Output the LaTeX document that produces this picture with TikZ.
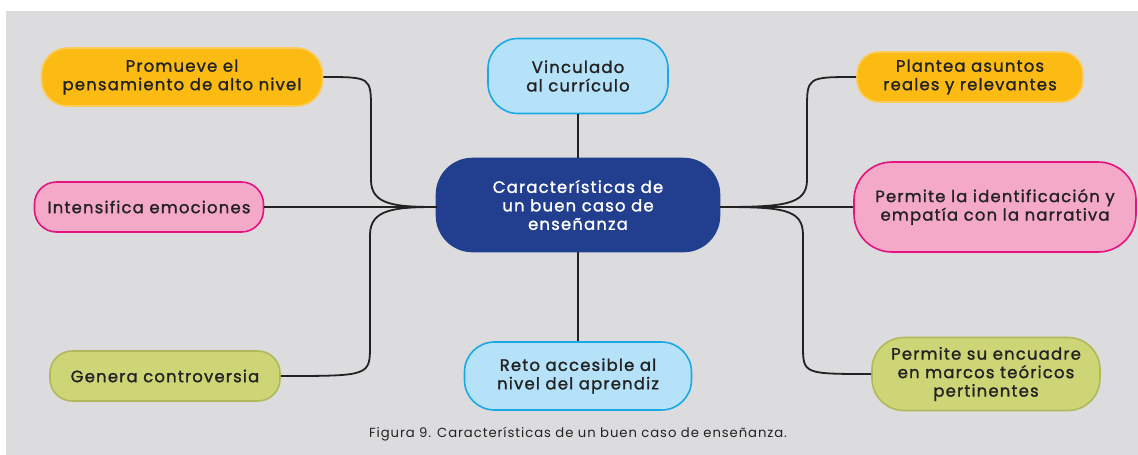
\documentclass[tikz,border=0pt]{standalone}
\usepackage{fontspec}
\setmainfont{Poppins}[LetterSpace=7]
\newfontfamily\boxfont{Poppins}[LetterSpace=7,FakeBold=1.3]
\definecolor{bggray}{HTML}{DCDCDE}
\definecolor{orfill}{HTML}{FCBB13}
\definecolor{ordraw}{HTML}{FDCB5A}
\definecolor{pkfill}{HTML}{F5A9C8}
\definecolor{pkdraw}{HTML}{E5127F}
\definecolor{grfill}{HTML}{CDD577}
\definecolor{grdraw}{HTML}{B1B95A}
\definecolor{blfill}{HTML}{B5E2F8}
\definecolor{bldraw}{HTML}{19A9E5}
\definecolor{dkblue}{HTML}{223E8E}
\definecolor{txt}{HTML}{222222}
\tikzset{
  box/.style={rectangle, align=center, line width=1.6pt, text=txt,
    font=\boxfont\fontsize{16.5}{18.5}\selectfont, inner sep=0pt},
  orbox/.style={box, fill=orfill, draw=ordraw},
  pkbox/.style={box, fill=pkfill, draw=pkdraw},
  grbox/.style={box, fill=grfill, draw=grdraw},
  blbox/.style={box, fill=blfill, draw=bldraw},
  conn/.style={draw=txt, line width=1.8pt}
}
\begin{document}
\begin{tikzpicture}[x=1pt,y=-1pt]
\useasboundingbox (0,0) rectangle (1138,455);
\fill[white] (0,0) rectangle (1138,455);
\fill[bggray] (6,11) rectangle (1138,455);
\coordinate (lj) at (437,207);
\coordinate (rj) at (720,207);
% nodes
\node[box, fill=dkblue, draw=dkblue, text=white, minimum width=283pt, minimum height=93pt, rounded corners=36pt] (cen) at (578,205) {Características de\\un buen caso de\\enseñanza};
\node[blbox, minimum width=180pt, minimum height=75pt, rounded corners=30pt] (vin) at (578,76) {Vinculado\\al currículo};
\node[blbox, minimum width=227pt, minimum height=68pt, rounded corners=30pt] (reto) at (578,376) {Reto accesible al\\nivel del aprendiz};
\node[orbox, minimum width=281pt, minimum height=58pt, rounded corners=26pt] (prom) at (182,77) {Promueve el\\pensamiento de alto nivel};
\node[pkbox, minimum width=229pt, minimum height=50pt, rounded corners=22pt] (inte) at (149,207) {Intensifica emociones};
\node[grbox, minimum width=230pt, minimum height=50pt, rounded corners=22pt] (gen) at (165,376) {Genera controversia};
\node[orbox, minimum width=226pt, minimum height=50pt, rounded corners=22pt] (plan) at (970,77) {Plantea asuntos\\reales y relevantes};
\node[pkbox, minimum width=282pt, minimum height=90pt, rounded corners=38pt] (ident) at (995,207) {Permite la identificación y\\empatía con la narrativa};
\node[grbox, minimum width=228pt, minimum height=73pt, rounded corners=32pt] (enc) at (986,374) {Permite su encuadre\\en marcos teóricos\\pertinentes};
% connectors
\draw[conn] (vin.south) -- (cen.north);
\draw[conn] (cen.south) -- (reto.north);
\draw[conn] (inte.east) -- (lj);
\draw[conn] (prom.east) .. controls (371,77) .. (371,110) -- (371,180) .. controls (371,205) and (395,207) .. (lj);
\draw[conn] (gen.east) .. controls (370,376) .. (370,345) -- (370,235) .. controls (370,209) and (395,207) .. (lj);
\draw[conn] (plan.west) .. controls (807,77) .. (807,110) -- (807,180) .. controls (807,205) and (783,207) .. (rj);
\draw[conn] (ident.west) -- (rj);
\draw[conn] (enc.west) .. controls (803,374) .. (803,345) -- (803,235) .. controls (803,209) and (783,207) .. (rj);
% caption
\node[font=\fontsize{13.2}{15}\selectfont, text=txt] (cap) at (578,434) {Figura 9. Características de un buen caso de enseñanza.};
\end{tikzpicture}
\end{document}
